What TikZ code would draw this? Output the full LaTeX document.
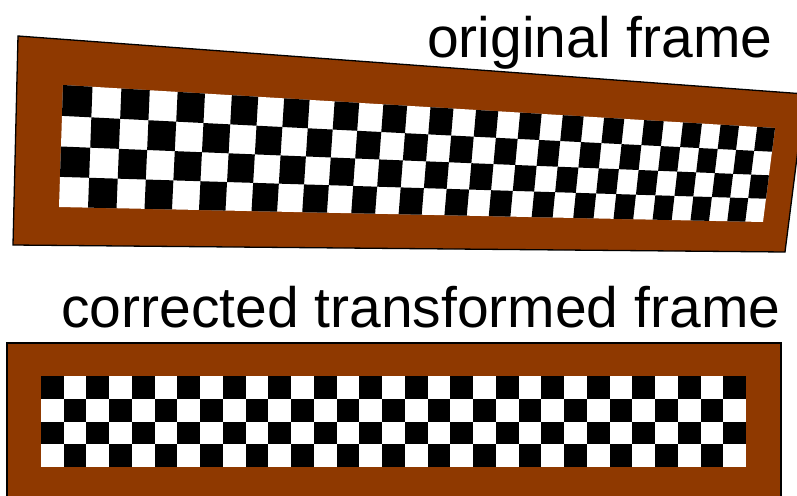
\documentclass[tikz,border=0pt]{standalone}
\usepackage{fontspec}
\setmainfont{Liberation Sans}
\definecolor{framebrown}{RGB}{143,57,0}

% projective map of the unit square onto the skewed board
\newcommand\skewpt[3]{%
  \pgfmathsetmacro\hw{0.29525*(#2)+0.016396*(#3)+1}%
  \pgfmathsetmacro\hx{(940.82*(#2)-3.033*(#3)+63)/\hw}%
  \pgfmathsetmacro\hy{(80.79*(#2)+125.394*(#3)+85)/\hw}%
  \coordinate (#1) at (\hx,\hy);}

\begin{document}
\begin{tikzpicture}[x=1pt,y=-1pt,
  framefill/.style={fill=framebrown,draw=black,line width=1.3pt,line join=miter},
  label/.style={font=\fontsize{57}{60}\selectfont,inner sep=0pt,anchor=base west}]
\useasboundingbox (0,0) rectangle (797,495);
\begin{scope}
\clip (0,0) rectangle (797,495);

% ---- skewed (original) frame ----
\coordinate (oTL) at (18,36);
\coordinate (oTR) at (805,94);
\coordinate (oBR) at (785,252);
\coordinate (oBL) at (13,245);
\filldraw[framefill] (oTL) -- (oTR) -- (oBR) -- (oBL) -- cycle;

\skewpt{bA}{0}{0}\skewpt{bB}{1}{0}\skewpt{bC}{1}{1}\skewpt{bD}{0}{1}
\fill[white] (bA) -- (bB) -- (bC) -- (bD) -- cycle;
\foreach \i in {0,...,30}{
  \foreach \j in {0,...,3}{
    \pgfmathtruncatemacro\parity{mod(\i+\j,2)}
    \ifnum\parity=0
      \pgfmathsetmacro\ua{\i/31}\pgfmathsetmacro\ub{(\i+1)/31}
      \pgfmathsetmacro\va{\j/4}\pgfmathsetmacro\vb{(\j+1)/4}
      \skewpt{q1}{\ua}{\va}\skewpt{q2}{\ub}{\va}
      \skewpt{q3}{\ub}{\vb}\skewpt{q4}{\ua}{\vb}
      \fill[black] (q1) -- (q2) -- (q3) -- (q4) -- cycle;
    \fi
  }
}

% ---- rectified (corrected) frame ----
\filldraw[framefill] (7,343) rectangle (781,520);
\fill[white] (41,376) rectangle (746,467);
\foreach \i in {0,...,30}{
  \foreach \j in {0,...,3}{
    \pgfmathtruncatemacro\parity{mod(\i+\j,2)}
    \ifnum\parity=0
      \fill[black] ({41+\i*(705/31)},{376+\j*(91/4)}) rectangle ++(22.742,22.75);
    \fi
  }
}
\end{scope}

\node[label] (orig) at (427,57) {original frame};
\node[label] (corr) at (61,327) {corrected transformed frame};
\end{tikzpicture}
\end{document}
